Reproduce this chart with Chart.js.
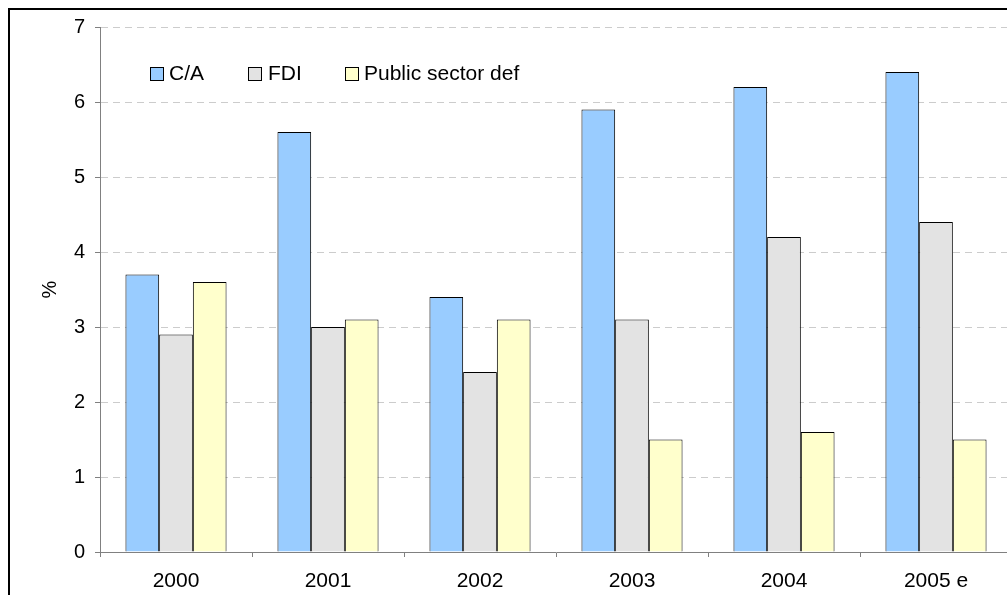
<!DOCTYPE html>
<html>
<head>
<meta charset="utf-8">
<script src="https://cdn.jsdelivr.net/npm/chart.js@4"></script>
<style>
  body { margin: 0; overflow: hidden; background: #fff; width: 1007px; height: 595px; position: relative; }
  #frame { position: absolute; left: 8px; top: 8px; width: 1100px; height: 700px; border-top: 2px solid #000; border-left: 2px solid #000; }
  #chart { position: absolute; left: 0; top: 0; }
</style>
</head>
<body>
<div id="frame"></div>
<canvas id="chart" width="1040" height="595"></canvas>
<script>
/* Datos del grafico */
const years = ['2000', '2001', '2002', '2003', '2004', '2005 e'];
const currentAccount = [3.7, 5.6, 3.4, 5.9, 6.2, 6.4];
const fdi = [2.9, 3.0, 2.4, 3.1, 4.2, 4.4];
const publicDeficit = [3.6, 3.1, 3.1, 1.5, 1.6, 1.5];
const yTicks = [0, 1, 2, 3, 4, 5, 6, 7];

const FONT = '"Liberation Sans", Arial, sans-serif';

/* Leyenda tipo Excel, items con ancho fijo */
const excelLegend = {
  id: 'excelLegend',
  afterDraw(chart) {
    const ctx = chart.ctx;
    const boxX = [150, 248, 345];
    const textX = [169, 268, 364];
    const boxTop = 67, size = 13;
    ctx.save();
    ctx.font = '21px ' + FONT;
    ctx.textBaseline = 'middle';
    ctx.textAlign = 'left';
    chart.data.datasets.forEach((ds, i) => {
      ctx.fillStyle = ds.backgroundColor;
      ctx.fillRect(boxX[i] + 0.5, boxTop + 0.5, size, size);
      ctx.strokeStyle = '#000';
      ctx.lineWidth = 1;
      ctx.strokeRect(boxX[i] + 0.5, boxTop + 0.5, size, size);
      ctx.fillStyle = '#000';
      ctx.fillText(ds.label, textX[i], boxTop + size / 2 + 1);
    });
    ctx.restore();
  }
};

const config = {
  type: 'bar',
  data: {
    labels: years,
    datasets: [
      { label: 'C/A', data: currentAccount, backgroundColor: '#99CCFF', borderColor: '#000', borderWidth: 1 },
      { label: 'FDI', data: fdi, backgroundColor: '#E3E3E3', borderColor: '#000', borderWidth: 1 },
      { label: 'Public sector def', data: publicDeficit, backgroundColor: '#FFFFCC', borderColor: '#000', borderWidth: 1 }
    ]
  },
  options: {
    responsive: false,
    animation: false,
    layout: { padding: { top: 27, right: 28, left: 0, bottom: 0 } },
    datasets: { bar: { categoryPercentage: 0.665, barPercentage: 1 } },
    plugins: { legend: { display: false }, tooltip: { enabled: false } },
    scales: {
      x: {
        afterFit(scale) { scale.height = 43; },
        grid: { offset: true, drawOnChartArea: false, tickLength: 5, tickColor: '#808080', tickWidth: 1 },
        border: { color: '#808080', width: 1 },
        ticks: { color: '#000', font: { family: FONT, size: 21 }, padding: 12, maxRotation: 0 }
      },
      y: {
        min: 0,
        max: 7,
        afterFit(scale) { scale.width = 100; },
        afterBuildTicks(scale) { scale.ticks = yTicks.map(v => ({ value: v })); },
        grid: { color: '#CCCCCC', tickLength: 5, tickColor: '#808080', tickWidth: 1, tickBorderDash: [] },
        border: { color: '#808080', width: 1, dash: [7, 5] },
        ticks: { color: '#000', font: { family: FONT, size: 20 }, padding: 10 },
        title: { display: true, text: '%', color: '#000', font: { family: FONT, size: 20 }, padding: { top: 38, bottom: 0 } }
      }
    }
  },
  plugins: [excelLegend]
};

new Chart(document.getElementById('chart').getContext('2d'), config);
</script>
</body>
</html>
